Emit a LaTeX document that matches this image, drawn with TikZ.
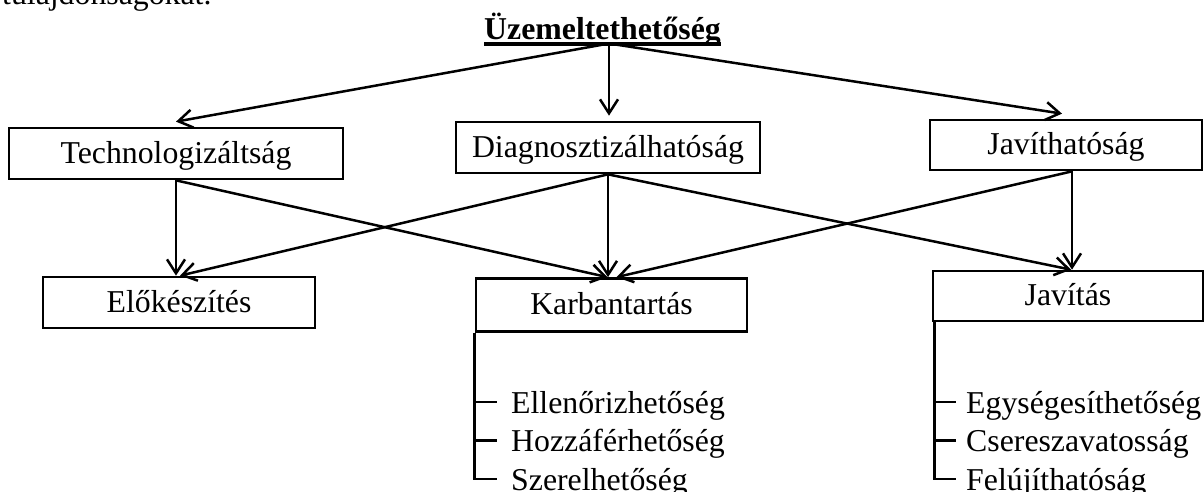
\documentclass[tikz,border=0pt]{standalone}
\usepackage{fontspec}
\setmainfont{Liberation Serif}
\usetikzlibrary{arrows.meta}
\newsavebox\ttlbox
\begin{document}
\begin{tikzpicture}[x=1pt,y=-1pt,
  every node/.style={font=\fontsize{31.8}{38}\selectfont, inner sep=0pt},
  box/.style={draw, line width=2.7pt, text height=25.4pt, text depth=6.4pt, minimum height=51pt},
  item/.style={anchor=base west, text height=28.6pt, text depth=6.4pt},
  arr/.style={line width=2.5pt, -{Straight Barb[length=14pt,width=18pt,line width=2.5pt]}},
  ln/.style={line width=2.5pt}]
\useasboundingbox (0,0) rectangle (1204,491);
% nodes
\node[anchor=base west] (intro) at (2,4) {tulajdonságokat.};
\node[anchor=base] (title) at (602.5,39) {\sbox\ttlbox{\bfseries Üzemeltethetőség}\usebox\ttlbox\llap{\rule[-6.6pt]{\wd\ttlbox}{3.4pt}}};
\node[box, minimum width=334pt] (tech) at (176,153.5) {Technologizáltság};
\node[box, minimum width=304pt] (diag) at (608,147.5) {Diagnosztizálhatóság};
\node[box, minimum width=272pt, minimum height=50pt] (jav) at (1066,145) {Javíthatóság};
\node[box, minimum width=272pt] (elo) at (179,302.5) {Előkészítés};
\node[box, minimum width=271pt, minimum height=53pt] (karb) at (611.5,305) {Karbantartás};
\node[box, minimum width=270pt, minimum height=50pt] (javitas) at (1068,296) {Javítás};
\node[item] (k1) at (511,413) {Ellenőrizhetőség};
\node[item] (k2) at (511,451.5) {Hozzáférhetőség};
\node[item] (k3) at (511,490) {Szerelhetőség};
\node[item] (j1) at (966,413) {Egységesíthetőség};
\node[item] (j2) at (966,451.5) {Csereszavatosság};
\node[item] (j3) at (966,490) {Felújíthatóság};
\coordinate (hub) at ([xshift=6.5pt,yshift=-4.5pt]title.base);
% top arrows
\draw[arr] (hub) -- ([yshift=5pt]tech.north);
\draw[arr] (hub) -- ([yshift=5pt]hub |- diag.north);
\draw[arr] (hub) -- ([xshift=-4pt,yshift=5pt]jav.north);
% second layer
\draw[arr] (tech.south) -- (tech.south |- elo.north);
\draw[arr] (tech.south) -- ([xshift=-4pt]karb.north);
\draw[arr] (diag.south) -- ([xshift=1pt]elo.north);
\draw[arr] (diag.south) -- (diag.south |- karb.north);
\draw[arr] (diag.south) -- ([xshift=3pt]javitas.north);
\draw[arr] ([xshift=6pt]jav.south) -- ([xshift=6pt]jav.south |- javitas.north);
\draw[arr] ([xshift=6pt]jav.south) -- ([xshift=5pt]karb.north);
% lists
\draw[ln] (karb.south west) |- ([xshift=-14pt]k3.west);
\draw[ln] (karb.south west |- k1.west) -- ([xshift=-14pt]k1.west);
\draw[ln] (karb.south west |- k2.west) -- ([xshift=-14pt]k2.west);
\draw[ln] ([xshift=3pt]javitas.south west) |- ([xshift=-10pt]j3.west);
\draw[ln] ([xshift=3pt]javitas.south west |- j1.west) -- ([xshift=-10pt]j1.west);
\draw[ln] ([xshift=3pt]javitas.south west |- j2.west) -- ([xshift=-10pt]j2.west);
\end{tikzpicture}
\end{document}
